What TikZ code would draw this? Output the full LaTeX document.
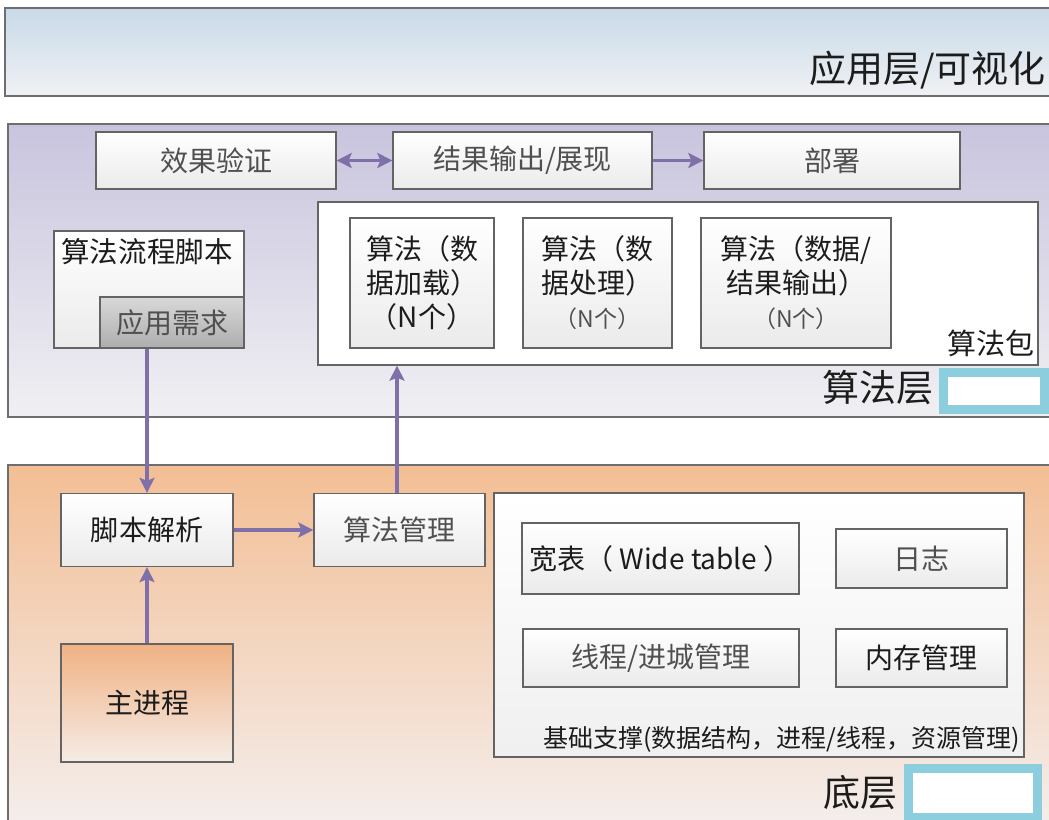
\documentclass[tikz,border=0pt]{standalone}
\usepackage{fontspec}
\setmainfont{Noto Sans CJK SC}
\usetikzlibrary{arrows.meta}
\definecolor{arr}{RGB}{128,112,170}
\definecolor{bline}{RGB}{100,100,100}
\definecolor{lline}{RGB}{110,110,110}
\definecolor{txtdark}{RGB}{28,28,28}
\definecolor{txtgray}{RGB}{80,80,80}
\definecolor{cyanbox}{RGB}{140,205,222}
\newcommand\fsz[2]{\fontsize{#1bp}{#2bp}\selectfont}
\tikzset{
  layer/.style={draw=lline, line width=1.6bp},
  box/.style={draw=bline, line width=1.3bp, top color=white, bottom color=black!8,
    text=txtdark, align=center, inner sep=0pt, font=\fsz{28}{34}},
  graytxt/.style={text=txtgray},
  conn/.style={draw=arr, line width=3.2bp, -{Stealth[length=15bp,width=15bp,inset=3bp]}},
  biconn/.style={draw=arr, line width=3.2bp, {Stealth[length=15bp,width=15bp,inset=3bp]}-{Stealth[length=15bp,width=15bp,inset=3bp]}},
  bigtxt/.style={text=txtdark, font=\fsz{37}{42}, inner sep=0pt},
  tagbox/.style={draw=cyanbox, line width=9bp, fill=white}
}
\begin{document}
\begin{tikzpicture}[x=1bp,y=-1bp]
\clip (0,0) rectangle (1049,820);
\fill[white] (0,0) rectangle (1049,820);

% application layer
\path[layer, top color={rgb,255:red,200;green,218;blue,232}, bottom color={rgb,255:red,240;green,241;blue,244}]
  (5,8) rectangle (1070,96);
\node[bigtxt, anchor=east] (applbl) at (1046,70) {应用层/可视化};

% algorithm layer
\path[layer, top color={rgb,255:red,200;green,196;blue,222}, bottom color={rgb,255:red,240;green,240;blue,243}]
  (8,124) rectangle (1070,417);

\node[box, graytxt, minimum width=240bp, minimum height=57bp] (vf) at (216,160.5) {效果验证};
\node[box, graytxt, minimum width=259bp, minimum height=57bp] (out) at (522.5,160.5) {结果输出/展现};
\node[box, graytxt, minimum width=256bp, minimum height=57bp] (dep) at (832,160.5) {部署};

\node[draw=bline, line width=1.3bp, fill=white, minimum width=720bp, minimum height=163bp, inner sep=0pt] (pkg) at (678,283.5) {};
\node[text=txtdark, font=\fsz{29}{30}, inner sep=0pt, anchor=east] (pkglbl) at (1035,343) {算法包};

\node[box, minimum width=144bp, minimum height=130bp] (a1) at (422,283) {算法（数\\据加载）\\（N个）};
\node[box, minimum width=149bp, minimum height=130bp] (a2) at (597.5,283) {算法（数\\据处理）\\{\fsz{23}{34}\color{txtgray}（N个）}};
\node[box, minimum width=190bp, minimum height=130bp] (a3) at (796,283) {算法（数据/\\结果输出）\\{\fsz{23}{34}\color{txtgray}（N个）}};

\node[box, minimum width=190bp, minimum height=117bp] (script) at (149,289.5) {};
\node[text=txtdark, font=\fsz{28.5}{30}, inner sep=0pt] (scriptlbl) at (147,252) {算法流程脚本};
\node[box, graytxt, top color=black!15, bottom color=black!32, minimum width=144bp, minimum height=51bp] (req) at (172,322.5) {应用需求};

\node[bigtxt, anchor=east] (alglbl) at (934,388) {算法层};
\path[tagbox] (943,372) rectangle (1044,409);

% bottom layer
\path[layer, top color={rgb,255:red,243;green,190;blue,148}, bottom color={rgb,255:red,244;green,240;blue,240}]
  (8,465) rectangle (1070,840);

\node[box, minimum width=172bp, minimum height=73bp] (parse) at (147,530) {脚本解析};
\node[box, graytxt, minimum width=171bp, minimum height=73bp] (mgmt) at (399.5,530) {算法管理};
\node[box, top color={rgb,255:red,240;green,178;blue,132}, bottom color={rgb,255:red,245;green,236;blue,230}, minimum width=172bp, minimum height=118bp] (main) at (147,703) {主进程};

\node[draw=bline, line width=1.3bp, top color=white, bottom color=black!6, minimum width=530bp, minimum height=264bp, inner sep=0pt] (base) at (759,625) {};
\node[box, minimum width=277bp, minimum height=71bp] (wide) at (660.5,558.5) {宽表（ Wide table ）};
\node[box, graytxt, minimum width=171bp, minimum height=59bp] (log) at (921.5,558.5) {日志};
\node[box, graytxt, minimum width=276bp, minimum height=58bp] (thread) at (661,658) {线程/进城管理};
\node[box, minimum width=171bp, minimum height=58bp] (mem) at (921.5,658) {内存管理};
\node[text=txtdark, font=\fsz{25}{28}, inner sep=0pt, anchor=east] (baselbl) at (1020,739) {基础支撑(数据结构，进程/线程，资源管理)};

\node[bigtxt, anchor=east] (botlbl) at (898,793) {底层};
\path[tagbox] (908,768) rectangle (1037,817);

% connectors
\draw[biconn] (vf.east) -- (out.west);
\draw[conn] (out.east) -- (dep.west);
\draw[conn] (parse.north |- req.south) -- (parse.north);
\draw[conn] (parse.east) -- (mgmt.west);
\draw[conn] (main.north) -- (parse.south);
\draw[conn] ([xshift=-2.5bp]mgmt.north) -- ([xshift=-2.5bp]mgmt.north |- pkg.south);
\end{tikzpicture}
\end{document}
